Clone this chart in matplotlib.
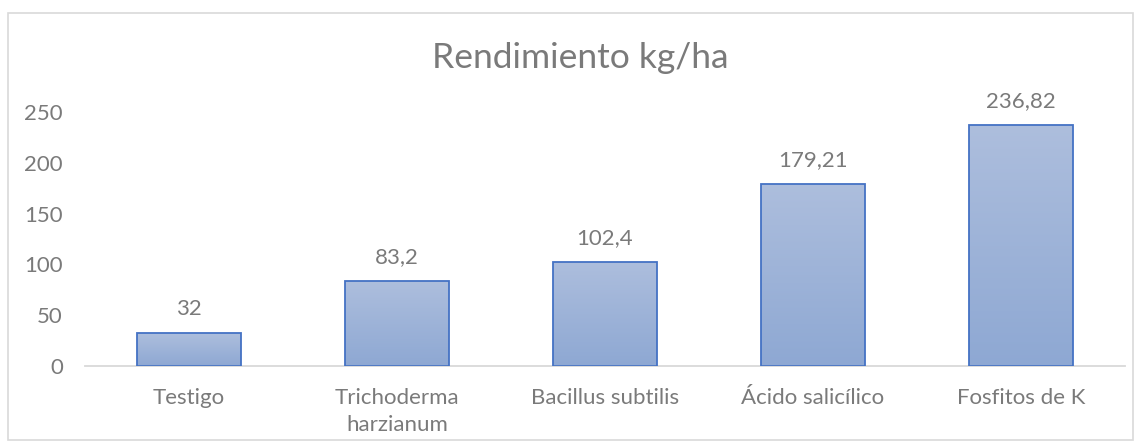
import matplotlib
matplotlib.use("Agg")
import matplotlib.pyplot as plt
import numpy as np
from matplotlib.patches import Rectangle
from matplotlib.colors import LinearSegmentedColormap

categories = ["Testigo", "Trichoderma\nharzianum", "Bacillus subtilis", "Ácido salicílico", "Fosfitos de K"]
values = [32, 83.2, 102.4, 179.21, 236.82]
labels = ["32", "83,2", "102,4", "179,21", "236,82"]
yticks = [0, 50, 100, 150, 200, 250]

plt.rcParams['font.family'] = ['Lato', 'DejaVu Sans']
txt = "#7a7a7a"
W, H = 1141, 448

fig = plt.figure(figsize=(W/100, H/100), dpi=100)
fig.patches.append(Rectangle((8/W, 1-440/H), 1125/W, 427/H, transform=fig.transFigure,
                             fill=False, edgecolor="#d9d9d9", linewidth=1.2))
ax = fig.add_axes([85/W, 1-366/H, 1040/W, 254/H])

x = np.arange(len(categories))
bars = ax.bar(x, values, width=0.5, color="none", edgecolor="#4472c4", linewidth=1.3, zorder=3)
cmap = LinearSegmentedColormap.from_list("g", ["#8ea8d3", "#adbedd"])
grad = np.linspace(0, 1, 256).reshape(-1, 1)
for b, lab in zip(bars, labels):
    x0, w, h = b.get_x(), b.get_width(), b.get_height()
    im = ax.imshow(grad, cmap=cmap, aspect="auto", origin="lower",
                   extent=[x0, x0 + w, 0, h], zorder=2)
    im.set_clip_path(b)
    ax.annotate(lab, (x0 + w/2, h), xytext=(0, 13), textcoords="offset points",
                ha="center", va="baseline", fontsize=16, color=txt)

ax.set_xlim(-0.5, len(categories) - 0.5)
ax.set_ylim(0, 250)
ax.set_yticks(yticks)
ax.set_xticks(x)
ax.set_xticklabels(categories, fontsize=16, color=txt, linespacing=1.45)
ax.tick_params(axis="y", length=0, labelsize=16, labelcolor=txt, pad=16)
ax.tick_params(axis="x", length=0, pad=15.5)
for s in ["top", "right", "left"]:
    ax.spines[s].set_visible(False)
ax.spines["bottom"].set_color("#d9d9d9")
ax.spines["bottom"].set_linewidth(1.3)
fig.text(580/W, 1-68/H, "Rendimiento kg/ha", fontsize=25.5, color=txt, ha="center", va="baseline")

fig.savefig("out.png", dpi=100)
